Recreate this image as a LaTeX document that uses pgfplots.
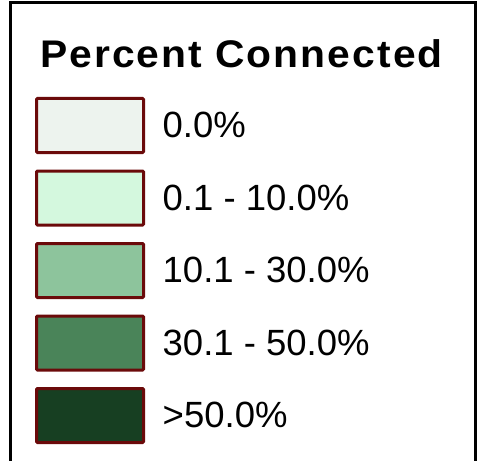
\documentclass[border=0pt]{standalone}
\usepackage{fontspec}
\setmainfont{Liberation Sans}
\newfontfamily\titlefont[LetterSpace=5]{Liberation Sans}
\usepackage{graphicx}
\usepackage{pgfplots}
\pgfplotsset{compat=1.18}
\definecolor{bd}{HTML}{6B0A0A}
\definecolor{cA}{HTML}{EDF3EE}
\definecolor{cB}{HTML}{D4F8DE}
\definecolor{cC}{HTML}{8DC49C}
\definecolor{cD}{HTML}{4A8459}
\definecolor{cE}{HTML}{173F22}
\begin{document}
\begin{tikzpicture}
\begin{axis}[name=ax,
  width=477bp, height=461bp, scale only axis,
  xmin=0, xmax=477, ymin=0, ymax=461, y dir=reverse,
  axis lines=none, clip=false]
% frame (open at bottom)
\addplot[black, line width=3bp, line join=miter, mark=none] coordinates {(10.5,461) (10.5,3) (475.5,3) (475.5,461)};
% swatches
\addplot[fill=cA, draw=bd, line width=3bp, rounded corners=1bp, mark=none] coordinates {(36.5,98.5) (143.5,98.5) (143.5,152.5) (36.5,152.5)} -- cycle;
\addplot[fill=cB, draw=bd, line width=3bp, rounded corners=1bp, mark=none] coordinates {(36.5,171) (143.5,171) (143.5,225) (36.5,225)} -- cycle;
\addplot[fill=cC, draw=bd, line width=3bp, rounded corners=1bp, mark=none] coordinates {(36.5,243.5) (143.5,243.5) (143.5,297.5) (36.5,297.5)} -- cycle;
\addplot[fill=cD, draw=bd, line width=3bp, rounded corners=1bp, mark=none] coordinates {(36.5,316) (143.5,316) (143.5,370) (36.5,370)} -- cycle;
\addplot[fill=cE, draw=bd, line width=3bp, rounded corners=1bp, mark=none] coordinates {(36.5,388.5) (143.5,388.5) (143.5,442.5) (36.5,442.5)} -- cycle;
% title
\node[anchor=base west, inner sep=0pt, font=\titlefont\bfseries\fontsize{38.5bp}{42bp}\selectfont] at (axis cs:40,67.3) {\scalebox{1.06}[1]{Percent Connected}};
% labels
\begin{scope}[every node/.style={anchor=base west, inner sep=0pt, font=\fontsize{36.5bp}{40bp}\selectfont}]
\node at (axis cs:162.5,137) {0.0\%};
\node at (axis cs:162.5,210) {0.1 - 10.0\%};
\node at (axis cs:162.5,282.5) {10.1 - 30.0\%};
\node at (axis cs:162.5,355) {30.1 - 50.0\%};
\node at (axis cs:162.5,427.5) {>50.0\%};
\end{scope}
\end{axis}
\pgfresetboundingbox
\path[use as bounding box] (ax.south west) rectangle (ax.north east);
\end{tikzpicture}
\end{document}
